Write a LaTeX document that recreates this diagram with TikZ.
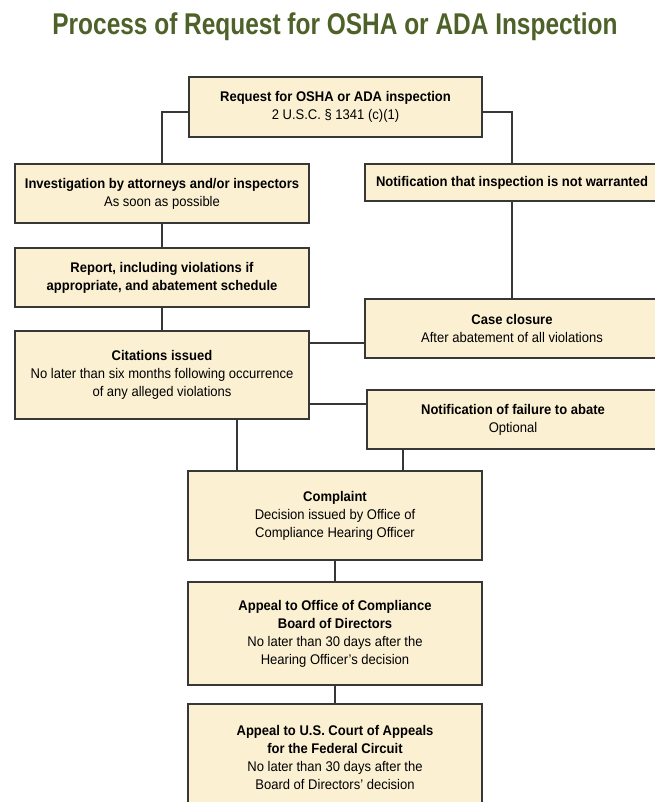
\documentclass[tikz,border=0pt]{standalone}
\usepackage{fontspec}
\setmainfont[FakeStretch=0.93]{Liberation Sans}
\newfontfamily\titlefont[FakeStretch=0.815]{Liberation Sans}
\definecolor{boxfill}{RGB}{252,240,210}
\definecolor{titlegreen}{RGB}{77,97,40}
\definecolor{linegray}{RGB}{55,55,55}

\begin{document}
\begin{tikzpicture}[x=1pt, y=-1pt,
  box/.style={draw=linegray, line width=1.2pt, fill=boxfill, align=center, inner sep=0pt,
    font=\fontsize{14}{18}\selectfont},
  link/.style={draw=linegray, line width=1.2pt}]
  \useasboundingbox (0,0) rectangle (654,802);

  \node[font=\titlefont\bfseries\fontsize{30}{34}\selectfont, text=titlegreen] (title) at (335,27)
    {Process of Request for OSHA or ADA Inspection};

  % left column and top
  \node[box, minimum width=293pt, minimum height=60pt] (req) at (335.5,107)
    {\textbf{Request for OSHA or ADA inspection}\\2 U.S.C. § 1341 (c)(1)};
  \node[box, minimum width=294pt, minimum height=59pt] (inv) at (162,193.5)
    {\textbf{Investigation by attorneys and/or inspectors}\\As soon as possible};
  \node[box, minimum width=294pt, minimum height=59pt] (rep) at (162,277.5)
    {\textbf{Report, including violations if}\\\textbf{appropriate, and abatement schedule}};
  \node[box, minimum width=294pt, minimum height=88pt] (cit) at (162,375)
    {\textbf{Citations issued}\\No later than six months following occurrence\\of any alleged violations};

  % right column
  \node[box, minimum width=294pt, minimum height=37pt] (notw) at (512,182.5)
    {\textbf{Notification that inspection is not warranted}};
  \node[box, minimum width=294pt, minimum height=59pt] (close) at (512,328.5)
    {\textbf{Case closure}\\After abatement of all violations};
  \node[box, minimum width=292pt, minimum height=59pt] (fail) at (513,419.5)
    {\textbf{Notification of failure to abate}\\Optional};

  % bottom chain
  \node[box, minimum width=294pt, minimum height=89pt] (comp) at (335,515.5)
    {\textbf{Complaint}\\Decision issued by Office of\\Compliance Hearing Officer};
  \node[box, minimum width=294pt, minimum height=103pt] (app) at (335,633.5)
    {\textbf{Appeal to Office of Compliance}\\\textbf{Board of Directors}\\No later than 30 days after the\\Hearing Officer’s decision};
  \node[box, minimum width=294pt, minimum height=106pt] (court) at (335,757)
    {\textbf{Appeal to U.S. Court of Appeals}\\\textbf{for the Federal Circuit}\\No later than 30 days after the\\Board of Directors’ decision};

  \draw[link] ([yshift=-5pt]req.west) -| (inv.north);
  \draw[link] ([yshift=-5pt]req.east) -| (notw.north);
  \draw[link] (inv.south) -- (rep.north);
  \draw[link] (rep.south) -- (cit.north);
  \draw[link] (notw.south) -- (close.north);
  \draw[link] (cit.east |- 0,343) -- (close.west |- 0,343);
  \draw[link] (cit.east |- 0,404) -- (fail.west |- 0,404);
  \draw[link] (cit.south -| 237,0) -- (comp.north -| 237,0);
  \draw[link] (fail.south -| 403,0) -- (comp.north -| 403,0);
  \draw[link] (comp.south) -- (app.north);
  \draw[link] (app.south) -- (court.north);
\end{tikzpicture}
\end{document}
